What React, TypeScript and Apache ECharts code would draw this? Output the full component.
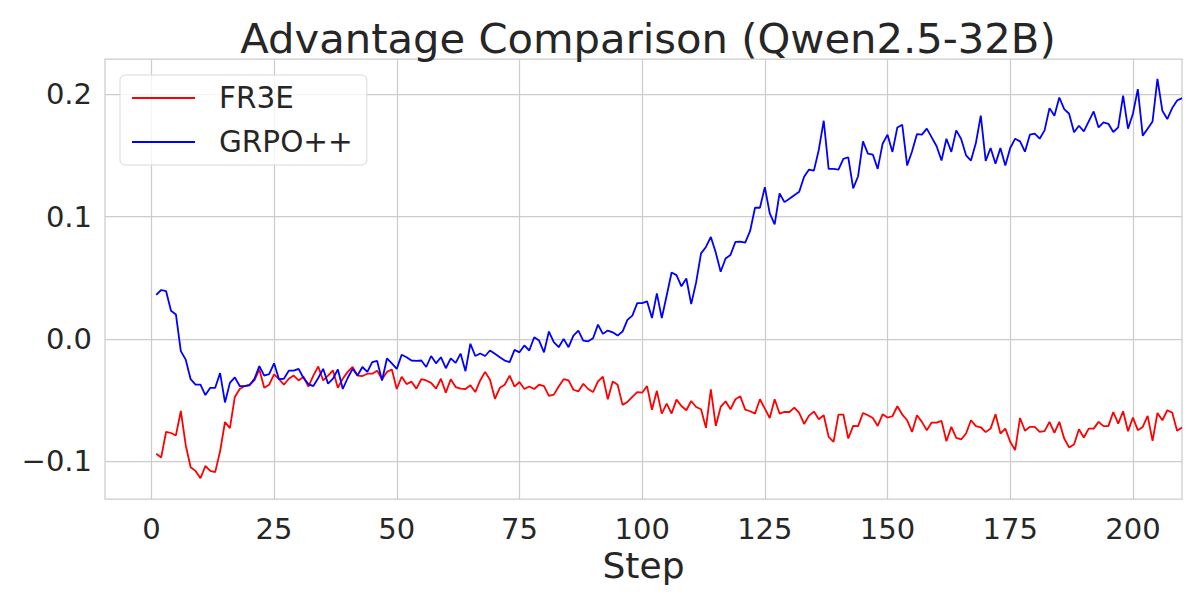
import React, { useEffect, useRef } from "react";
import * as echarts from "echarts";

const TITLE = "Advantage Comparison (Qwen2.5-32B)";
const X_LABEL = "Step";
const SERIES_NAMES = ["FR3E", "GRPO++"];
const X_TICKS = [0, 25, 50, 75, 100, 125, 150, 175, 200];
const Y_TICKS = [-0.1, 0.0, 0.1, 0.2];

const fr3e = [
  -0.094, -0.097, -0.076, -0.077, -0.079, -0.059, -0.087, -0.105, -0.108, -0.114,
  -0.104, -0.108, -0.109, -0.092, -0.068, -0.073, -0.0475, -0.041, -0.0386, -0.0375,
  -0.034, -0.025, -0.040, -0.0375, -0.029, -0.033, -0.0375, -0.0326, -0.030, -0.034,
  -0.031, -0.039, -0.030, -0.0226, -0.034, -0.030, -0.0258, -0.040, -0.0326, -0.027,
  -0.023, -0.030, -0.0304, -0.0285, -0.0285, -0.026, -0.033, -0.027, -0.025, -0.041,
  -0.031, -0.037, -0.035, -0.0407, -0.033, -0.034, -0.036, -0.0407, -0.0326, -0.044,
  -0.033, -0.0394, -0.0407, -0.041, -0.038, -0.0435, -0.034, -0.027, -0.0334, -0.049,
  -0.040, -0.0375, -0.030, -0.039, -0.0353, -0.041, -0.039, -0.041, -0.0375, -0.0386,
  -0.0467, -0.0456, -0.039, -0.033, -0.034, -0.0416, -0.043, -0.0367, -0.041, -0.0435,
  -0.0348, -0.031, -0.0494, -0.0348, -0.0375, -0.054, -0.0516, -0.0475, -0.0435, -0.044,
  -0.0386, -0.058, -0.0425, -0.0611, -0.053, -0.0611, -0.0497, -0.0549, -0.0584, -0.0508,
  -0.0557, -0.0576, -0.0728, -0.0413, -0.0712, -0.0557, -0.0511, -0.0576, -0.0494, -0.047,
  -0.0579, -0.0592, -0.0611, -0.0494, -0.057, -0.0647, -0.0494, -0.0611, -0.0598, -0.0598,
  -0.0562, -0.0606, -0.0696, -0.0628, -0.0595, -0.0657, -0.0625, -0.0801, -0.0842, -0.0619,
  -0.0619, -0.0815, -0.0712, -0.0714, -0.0606, -0.0625, -0.0647, -0.0712, -0.0617, -0.0644,
  -0.0633, -0.0551, -0.0619, -0.0666, -0.0761, -0.0625, -0.0679, -0.0747, -0.0685, -0.0685,
  -0.0671, -0.0837, -0.072, -0.081, -0.0823, -0.0774, -0.0666, -0.0714, -0.0723, -0.0763,
  -0.0734, -0.0617, -0.0774, -0.0734, -0.0842, -0.091, -0.0647, -0.0752, -0.072, -0.072,
  -0.076, -0.0755, -0.0679, -0.0769, -0.0679, -0.0815, -0.0888, -0.0864, -0.0739, -0.0807,
  -0.0734, -0.0734, -0.0679, -0.0714, -0.0714, -0.0598, -0.0693, -0.0592, -0.0755, -0.0644,
  -0.0747, -0.072, -0.063, -0.0834, -0.0606, -0.0666, -0.0584, -0.0603, -0.0752, -0.0725,
];

const grpo = [
  0.036, 0.040, 0.039, 0.023, 0.020, -0.010, -0.017, -0.033, -0.0375, -0.0375,
  -0.046, -0.040, -0.040, -0.028, -0.052, -0.036, -0.0315, -0.0386, -0.0386, -0.038,
  -0.0326, -0.0223, -0.030, -0.0288, -0.020, -0.033, -0.0326, -0.026, -0.026, -0.0245,
  -0.032, -0.037, -0.0386, -0.032, -0.0245, -0.0367, -0.0326, -0.025, -0.041, -0.032,
  -0.0245, -0.030, -0.023, -0.027, -0.019, -0.018, -0.034, -0.016, -0.020, -0.0245,
  -0.013, -0.015, -0.0177, -0.018, -0.0177, -0.023, -0.014, -0.020, -0.015, -0.024,
  -0.016, -0.0196, -0.012, -0.0264, -0.004, -0.014, -0.012, -0.014, -0.0095, -0.0122,
  -0.015, -0.0177, -0.019, -0.009, -0.011, -0.0054, -0.0095, 0.0013, -0.0014, -0.011,
  0.006, -0.0027, -0.0068, 0.0, -0.0068, 0.0027, 0.0068, -0.0014, -0.002, 0.0005,
  0.0117, 0.0041, 0.0068, 0.0054, 0.0027, 0.006, 0.0155, 0.019, 0.0293, 0.0293,
  0.0307, 0.017, 0.0372, 0.017, 0.0355, 0.0543, 0.0522, 0.043, 0.0494, 0.0285,
  0.0462, 0.070, 0.0752, 0.0834, 0.0706, 0.0549, 0.0658, 0.0687, 0.0793, 0.0796,
  0.0788, 0.0883, 0.1073, 0.1073, 0.1242, 0.1027, 0.0937, 0.119, 0.1119, 0.1147,
  0.1176, 0.1204, 0.1326, 0.1385, 0.1377, 0.1548, 0.1785, 0.1391, 0.1391, 0.1385,
  0.1473, 0.1486, 0.1231, 0.1331, 0.1616, 0.1516, 0.1508, 0.1391, 0.1597, 0.1671,
  0.153, 0.173, 0.1752, 0.1418, 0.1535, 0.1676, 0.1671, 0.172, 0.1649, 0.1576,
  0.1459, 0.1638, 0.153, 0.1706, 0.1636, 0.1502, 0.1459, 0.1603, 0.1826, 0.1456,
  0.1562, 0.1433, 0.1562, 0.1418, 0.1562, 0.1638, 0.1616, 0.1532, 0.1671, 0.1679,
  0.1638, 0.1706, 0.1888, 0.1826, 0.1975, 0.188, 0.1842, 0.169, 0.1744, 0.1698,
  0.1779, 0.1861, 0.173, 0.1771, 0.176, 0.1693, 0.173, 0.1991, 0.172, 0.1842,
  0.2043, 0.1663, 0.172, 0.1779, 0.2127, 0.1866, 0.1799, 0.1888, 0.195, 0.197,
];

const steps = fr3e.map((_, i) => i + 1);

const FONT = "DejaVu Sans";
const TEXT = "#262626";
const GRIDC = "#cccccc";

function fmt(v: number): string {
  const s = Math.abs(v).toFixed(1);
  return v < -1e-9 ? "\u2212" + s : s;
}

export default function App() {
  const ref = useRef<HTMLDivElement>(null);
  useEffect(() => {
    if (!ref.current) return;
    const chart = echarts.init(ref.current, undefined, { renderer: "svg" });
    chart.setOption({
      animation: false,
      backgroundColor: "#ffffff",
      title: {
        text: TITLE,
        left: 643,
        textAlign: "center",
        top: 12,
        textStyle: { fontFamily: FONT, fontSize: 41.7, fontWeight: "normal", color: TEXT },
      },
      legend: {
        orient: "vertical",
        left: 120,
        top: 75,
        padding: [6, 14, 6, 12],
        itemGap: 10,
        itemWidth: 63,
        itemHeight: 2,
        icon: "rect",
        backgroundColor: "rgba(255,255,255,0.8)",
        borderColor: "#d9d9d9",
        borderWidth: 1,
        borderRadius: 5,
        textStyle: {
          fontFamily: FONT,
          fontSize: 29.5,
          color: TEXT,
          lineHeight: 34,
          padding: [0, 0, 0, 19],
        },
        data: SERIES_NAMES,
      },
      grid: {
        left: 105,
        right: 18,
        top: 59,
        bottom: 101,
        show: true,
        borderColor: GRIDC,
        borderWidth: 1.25,
        containLabel: false,
      },
      xAxis: {
        type: "value",
        min: -9.45,
        max: 210,
        name: X_LABEL,
        nameLocation: "middle",
        nameGap: 44,
        nameTextStyle: { fontFamily: FONT, fontSize: 36, color: TEXT },
        axisLine: { show: false },
        axisTick: { show: false, customValues: X_TICKS },
        axisLabel: {
          customValues: X_TICKS,
          fontFamily: FONT,
          fontSize: 29,
          color: TEXT,
          margin: 15,
          formatter: (v: number) => String(v),
        },
        splitLine: { show: true, lineStyle: { color: GRIDC, width: 1.25 } },
      },
      yAxis: {
        type: "value",
        min: -0.131,
        max: 0.229,
        axisLine: { show: false },
        axisTick: { show: false, customValues: Y_TICKS },
        axisLabel: {
          customValues: Y_TICKS,
          fontFamily: FONT,
          fontSize: 29,
          color: TEXT,
          margin: 13,
          formatter: (v: number) => fmt(v),
        },
        splitLine: { show: true, lineStyle: { color: GRIDC, width: 1.25 } },
      },
      series: [
        {
          name: SERIES_NAMES[0],
          type: "line",
          data: steps.map((s, i) => [s, fr3e[i]]),
          showSymbol: false,
          symbol: "none",
          lineStyle: { color: "#ff0000", width: 1.8 },
          itemStyle: { color: "#ff0000" },
          z: 3,
        },
        {
          name: SERIES_NAMES[1],
          type: "line",
          data: steps.map((s, i) => [s, grpo[i]]),
          showSymbol: false,
          symbol: "none",
          lineStyle: { color: "#0000ff", width: 1.8 },
          itemStyle: { color: "#0000ff" },
          z: 4,
        },
      ],
    });
    return () => chart.dispose();
  }, []);
  return (
    <div
      ref={ref}
      style={{ position: "fixed", left: 0, top: 0, width: 1200, height: 600 }}
    />
  );
}
